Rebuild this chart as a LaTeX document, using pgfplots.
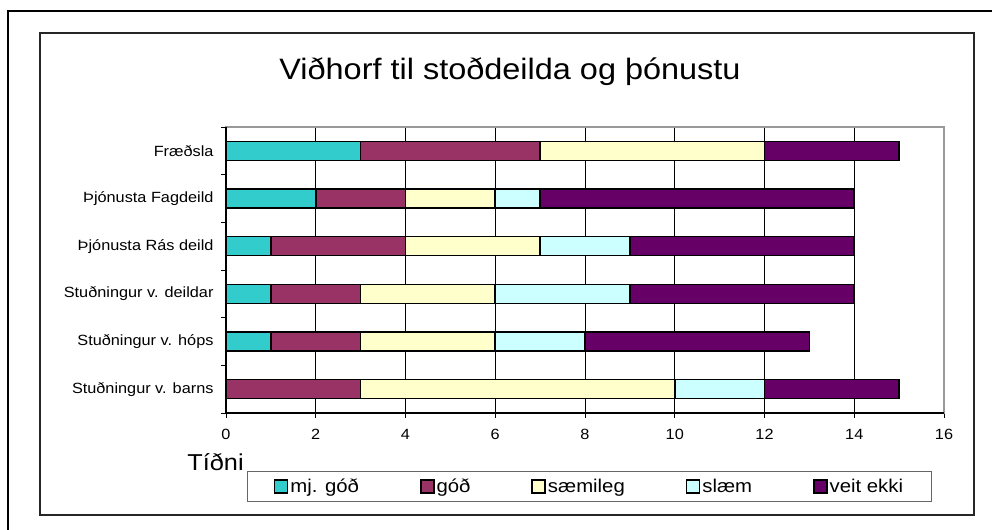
\documentclass[border=0pt]{standalone}
\usepackage{fontspec}
\setmainfont{Liberation Sans}[FakeStretch=1.1]
\usepackage{pgfplots}
\pgfplotsset{compat=1.18}
\definecolor{cA}{HTML}{33CCCC}
\definecolor{cB}{HTML}{993366}
\definecolor{cC}{HTML}{FFFFCC}
\definecolor{cD}{HTML}{CCFFFF}
\definecolor{cE}{HTML}{660066}
\pgfplotsset{sqleg/.style={legend image code/.code={\draw[##1,line width=1.5bp] (0bp,-6.5bp) rectangle (13bp,6.5bp);}}}
\begin{document}
\begin{tikzpicture}
\useasboundingbox (0bp,0bp) rectangle (992bp,530bp);
\begin{scope}
\clip (0bp,0bp) rectangle (992bp,530bp);
\draw[line width=2bp] (8bp,-20bp) -- (8bp,519bp) -- (1010bp,519bp);
\end{scope}
\draw[line width=1.3bp, black!85] (40bp,15bp) rectangle (974bp,497bp);
\node[anchor=base, font=\fontsize{29.5bp}{34bp}\selectfont] at (510bp,450bp) {Viðhorf til stoðdeilda og þónustu};
\node[font=\fontsize{23bp}{27bp}\selectfont] at (215.5bp,68bp) {Tíðni};
\begin{axis}[
  at={(226bp,117bp)}, anchor=south west, scale only axis,
  width=718bp, height=286bp,
  xbar stacked, bar width=19bp,
  xmin=0, xmax=16, ymin=-0.5, ymax=5.5,
  clip=false,
  xtick={0,2,...,16},
  ytick={0,...,5},
  yticklabels={Stuðningur v. barns,Stuðningur v. hóps,Stuðningur v. deildar,Þjónusta Rás deild,Þjónusta Fagdeild,Fræðsla},
  minor ytick={-0.5,0.5,...,5.5},
  major y tick style={draw=none},
  xtick pos=lower, ytick pos=left,
  tick align=outside,
  major tick length=5bp, minor tick length=5bp,
  tick style={black, line width=0.8bp},
  xmajorgrids, grid style={black, line width=0.8bp},
  axis line style={draw=gray!80, line width=1.5bp},
  /pgf/number format/assume math mode=true,
  tick label style={font=\fontsize{14.8bp}{17bp}\selectfont},
  xticklabel style={yshift=-8bp},
  yticklabel style={xshift=-4bp},
  legend columns=5,
  legend style={at={(0.5063,-0.257)}, anchor=center, draw=black!60, line width=1bp,
    font=\fontsize{18.5bp}{22bp}\selectfont, inner ysep=5bp, inner xsep=26bp,
    /tikz/every even column/.append style={column sep=59bp}},
]
\addplot[draw=black, line width=1.6bp, fill=cA, sqleg] coordinates {(0,0) (1,1) (1,2) (1,3) (2,4) (3,5)};
\addplot[draw=black, line width=1.6bp, fill=cB, sqleg] coordinates {(3,0) (2,1) (2,2) (3,3) (2,4) (4,5)};
\addplot[draw=black, line width=1.6bp, fill=cC, sqleg] coordinates {(7,0) (3,1) (3,2) (3,3) (2,4) (5,5)};
\addplot[draw=black, line width=1.6bp, fill=cD, sqleg] coordinates {(2,0) (2,1) (3,2) (2,3) (1,4) (0,5)};
\addplot[draw=black, line width=1.6bp, fill=cE, sqleg] coordinates {(3,0) (5,1) (5,2) (5,3) (7,4) (3,5)};
\legend{mj. góð, góð, sæmileg, slæm, veit ekki}
\draw[black, line width=1.3bp] (rel axis cs:0,1) -- (rel axis cs:0,0) -- (rel axis cs:1,0);
\end{axis}
\end{tikzpicture}
\end{document}
